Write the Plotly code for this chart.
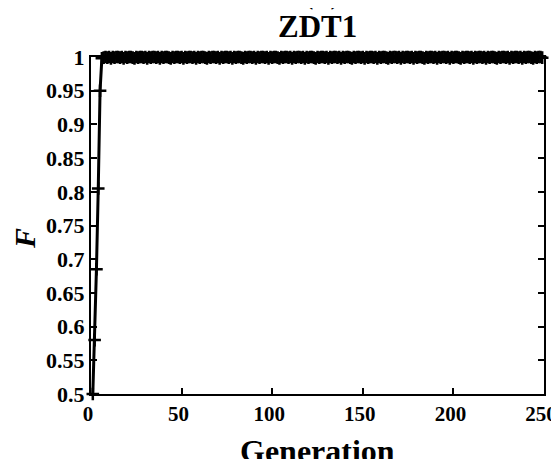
import plotly.graph_objects as go

generations = list(range(1, 251))
fitness = [
    0.500, 0.580, 0.685, 0.805, 0.950, 0.998, 0.999, 1.000, 0.999, 1.000, 0.998, 1.000, 0.999, 1.000, 1.000,
    0.999, 1.000, 0.998, 1.000, 0.999, 1.000, 1.000, 0.999, 0.998, 1.000, 0.999, 1.000, 1.000, 0.999, 1.000,
    0.998, 1.000, 0.999, 1.000, 1.000, 0.999, 1.000, 0.998, 1.000, 0.999, 1.000, 1.000, 0.999, 0.998, 1.000,
    0.999, 1.000, 1.000, 0.999, 1.000, 0.998, 1.000, 0.999, 1.000, 1.000, 0.999, 1.000, 0.998, 1.000, 0.999,
    1.000, 1.000, 0.999, 0.998, 1.000, 0.999, 1.000, 1.000, 0.999, 1.000, 0.998, 1.000, 0.999, 1.000, 1.000,
    0.999, 1.000, 0.998, 1.000, 0.999, 1.000, 1.000, 0.999, 0.998, 1.000, 0.999, 1.000, 1.000, 0.999, 1.000,
    0.998, 1.000, 0.999, 1.000, 1.000, 0.999, 1.000, 0.998, 1.000, 0.999, 1.000, 1.000, 0.999, 0.998, 1.000,
    0.999, 1.000, 1.000, 0.999, 1.000, 0.998, 1.000, 0.999, 1.000, 1.000, 0.999, 1.000, 0.998, 1.000, 0.999,
    1.000, 1.000, 0.999, 0.998, 1.000, 0.999, 1.000, 1.000, 0.999, 1.000, 0.998, 1.000, 0.999, 1.000, 1.000,
    0.999, 1.000, 0.998, 1.000, 0.999, 1.000, 1.000, 0.999, 0.998, 1.000, 0.999, 1.000, 1.000, 0.999, 1.000,
    0.998, 1.000, 0.999, 1.000, 1.000, 0.999, 1.000, 0.998, 1.000, 0.999, 1.000, 1.000, 0.999, 0.998, 1.000,
    0.999, 1.000, 1.000, 0.999, 1.000, 0.998, 1.000, 0.999, 1.000, 1.000, 0.999, 1.000, 0.998, 1.000, 0.999,
    1.000, 1.000, 0.999, 0.998, 1.000, 0.999, 1.000, 1.000, 0.999, 1.000, 0.998, 1.000, 0.999, 1.000, 1.000,
    0.999, 1.000, 0.998, 1.000, 0.999, 1.000, 1.000, 0.999, 0.998, 1.000, 0.999, 1.000, 1.000, 0.999, 1.000,
    0.998, 1.000, 0.999, 1.000, 1.000, 0.999, 1.000, 0.998, 1.000, 0.999, 1.000, 1.000, 0.999, 0.998, 1.000,
    0.999, 1.000, 1.000, 0.999, 1.000, 0.998, 1.000, 0.999, 1.000, 1.000, 0.999, 1.000, 0.998, 1.000, 0.999,
    1.000, 1.000, 0.999, 0.998, 1.000, 0.999, 1.000, 1.000, 0.999,
]
generations = generations[:len(fitness)]

x_ticks = [0, 50, 100, 150, 200, 250]
y_ticks = [0.5, 0.55, 0.6, 0.65, 0.7, 0.75, 0.8, 0.85, 0.9, 0.95, 1.0]
y_tick_labels = ["0.5", "0.55", "0.6", "0.65", "0.7", "0.75", "0.8", "0.85", "0.9", "0.95", "1"]

SERIF = "Liberation Serif, Times New Roman, serif"

fig = go.Figure()
fig.add_trace(go.Scatter(
    x=generations, y=fitness, mode="lines+markers",
    line=dict(color="black", width=3),
    marker=dict(symbol="cross-thin", size=9, line=dict(color="black", width=2.5)),
    cliponaxis=False, showlegend=False,
))

axis_common = dict(
    showline=True, linecolor="black", linewidth=2, mirror="ticks",
    ticks="inside", ticklen=6, tickwidth=1.5, tickcolor="black",
    showgrid=False, zeroline=False, ticklabeloverflow="allow",
)

fig.update_layout(
    width=551, height=451,
    margin=dict(l=83, r=15, t=49, b=65, autoexpand=False),
    plot_bgcolor="white", paper_bgcolor="white",
    xaxis=dict(range=[0, 250], tickvals=x_ticks, ticklabelshift=-3,
               tickfont=dict(family=SERIF, size=21, color="black", weight="bold"),
               **axis_common),
    yaxis=dict(range=[0.5, 1.0], tickvals=y_ticks, ticktext=y_tick_labels,
               tickfont=dict(family=SERIF, size=22, color="black", weight="bold"),
               **axis_common),
    annotations=[
        dict(text="ZDT1", xref="paper", yref="paper", x=0.5, y=1.0905,
             xanchor="center", yanchor="middle", showarrow=False,
             font=dict(family=SERIF, size=31, color="black", weight="bold")),
        dict(text="(d)", xref="paper", yref="paper", x=0.51, y=1.19,
             xanchor="center", yanchor="middle", showarrow=False,
             font=dict(family=SERIF, size=31, color="black", weight="bold")),
        dict(text="Generation", xref="paper", yref="paper", x=0.5, y=-0.168,
             xanchor="center", yanchor="middle", showarrow=False,
             font=dict(family=SERIF, size=32, color="black", weight="bold")),
        dict(text="<i>F</i>", xref="paper", yref="paper", x=-0.1457, y=0.463,
             xanchor="center", yanchor="middle", showarrow=False, textangle=-90,
             font=dict(family=SERIF, size=30, color="black", weight="bold")),
    ],
)

fig.write_html("out.html")
